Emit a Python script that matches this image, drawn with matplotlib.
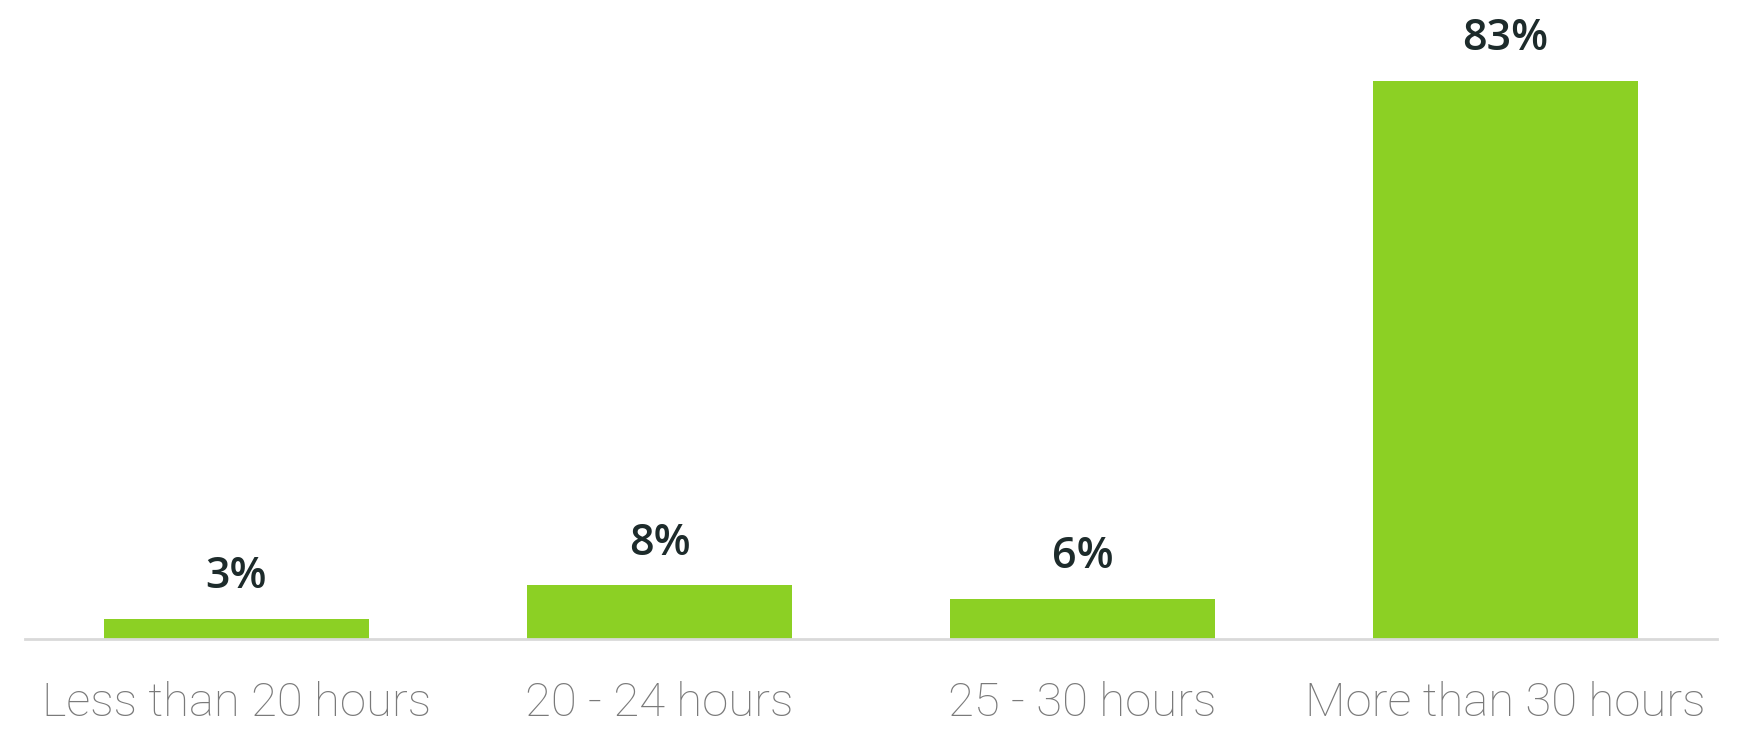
import matplotlib
matplotlib.use("Agg")
import matplotlib.pyplot as plt

categories = ["Less than 20 hours", "20 - 24 hours", "25 - 30 hours", "More than 30 hours"]
values = [3, 8, 6, 83]
labels = ["3%", "8%", "6%", "83%"]

fig = plt.figure(figsize=(17.58, 7.29), dpi=100)
ax = fig.add_axes([25/1758, 90/729, 1692/1758, 639/729])

x = range(len(categories))
ax.bar(x, values, width=0.625, color="#8CD024", zorder=2)
ax.set_xlim(-0.5, len(categories) - 0.5)
ax.set_ylim(0, 83 * 639 / 558)

for xi, v, lab in zip(x, values, labels):
    ax.annotate(lab, (xi, v), xytext=(0, 22), textcoords="offset points",
                ha="center", va="baseline", fontsize=31, fontweight="semibold",
                color="#1d2b2b", family=["Open Sans", "DejaVu Sans"])

ax.set_xticks(list(x))
ax.set_xticklabels(categories, fontsize=34, color="#7a7a7a",
                   family=["Roboto", "DejaVu Sans"], fontweight="light")
ax.tick_params(axis="x", length=0, pad=30)
ax.set_yticks([])
for s in ["top", "right", "left"]:
    ax.spines[s].set_visible(False)
ax.spines["bottom"].set_color("#d9d9d9")
ax.spines["bottom"].set_linewidth(2)

fig.savefig("out.png", dpi=100)
